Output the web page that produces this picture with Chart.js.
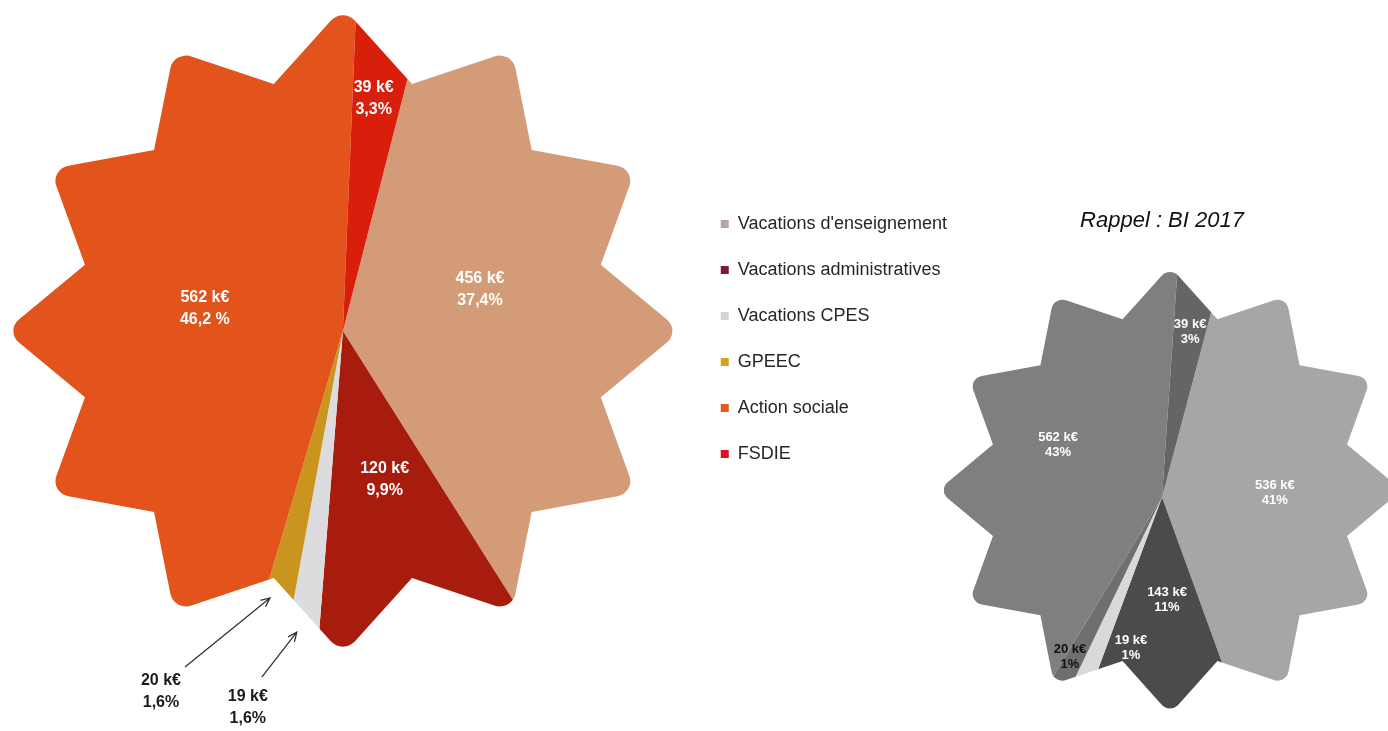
<!DOCTYPE html>
<html>
<head>
<meta charset="utf-8">
<title>Vacations et action sociale</title>
<script src="https://cdn.jsdelivr.net/npm/chart.js@4"></script>
<style>
  html, body { margin: 0; padding: 0; background: #fff; width: 1388px; height: 731px; overflow: hidden; }
  canvas { position: absolute; }
  #budgetChart { left: -7px; top: 0; }
  #rappelChart { left: 936px; top: 190px; }
</style>
</head>
<body>
<canvas id="budgetChart"></canvas>
<canvas id="rappelChart"></canvas>
<script>
// categories (same order in both pies)
const categories = ["Vacations d'enseignement", 'Vacations administratives', 'Vacations CPES', 'GPEEC', 'Action sociale', 'FSDIE'];

// current budget, k€ and shares as printed
const budgetValues = [456, 120, 19, 20, 562, 39];
const budgetShares = ['37,4%', '9,9%', '1,6%', '1,6%', '46,2 %', '3,3%'];

// reminder: BI 2017
const rappelValues = [536, 143, 19, 20, 562, 39];
const rappelShares = ['41%', '11%', '1%', '1%', '43%', '3%'];

const sliceColors = ['#D49B78', '#A71C0C', '#DCDCDE', '#C9951F', '#E3531C', '#DA1E0C'];
const legendColors = ['#B9A2A9', '#7A1A3A', '#D2D2D6', '#D4A020', '#E35A20', '#D8141E'];
const greyColors = ['#A6A6A6', '#4B4B4B', '#D9D9D9', '#6F6F6F', '#7F7F7F', '#656565'];

const FONT = '"Liberation Sans", Arial, sans-serif';
Chart.defaults.font.family = FONT;

// 12 pointed star, rounded tips, centred on (ox, oy)
function starPath(ctx, R, r, round, ox, oy) {
  const pts = [];
  for (let i = 0; i < 24; i++) {
    const a = (i * 15 - 90) * Math.PI / 180;
    const d = i % 2 === 0 ? R : r;
    pts.push([ox + Math.cos(a) * d, oy + Math.sin(a) * d]);
  }
  ctx.beginPath();
  ctx.moveTo(pts[23][0], pts[23][1]);
  for (let i = 0; i < 24; i++) {
    if (i % 2 === 0) {
      ctx.arcTo(pts[i][0], pts[i][1], pts[i + 1][0], pts[i + 1][1], round);
    } else {
      ctx.lineTo(pts[i][0], pts[i][1]);
    }
  }
  ctx.closePath();
}

function drawArrow(ctx, x1, y1, x2, y2) {
  const a = Math.atan2(y2 - y1, x2 - x1);
  ctx.beginPath();
  ctx.moveTo(x1, y1);
  ctx.lineTo(x2, y2);
  ctx.moveTo(x2 - 10 * Math.cos(a - 0.42), y2 - 10 * Math.sin(a - 0.42));
  ctx.lineTo(x2, y2);
  ctx.lineTo(x2 - 10 * Math.cos(a + 0.42), y2 - 10 * Math.sin(a + 0.42));
  ctx.stroke();
}

// clips the pie to a star and writes the value / share labels
function makeStarPie(cfg) {
  return {
    id: 'starPie',
    beforeDatasetsDraw(chart) {
      const ctx = chart.ctx;
      const arc = chart.getDatasetMeta(0).data[0];
      ctx.save();
      ctx.translate(arc.x, arc.y);
      ctx.scale(1, cfg.squash);
      starPath(ctx, cfg.radius, cfg.radius * cfg.inner, cfg.round, cfg.dx, cfg.dy / cfg.squash);
      ctx.clip();
      ctx.translate(-arc.x, -arc.y);
    },
    afterDatasetsDraw(chart) {
      const ctx = chart.ctx;
      ctx.restore();
      const data = chart.data.datasets[0].data;
      chart.getDatasetMeta(0).data.forEach((arc, i) => {
        const p = arc.getProps(['x', 'y', 'startAngle', 'endAngle'], true);
        const lab = cfg.labels[i];
        const mid = (p.startAngle + p.endAngle) / 2 + lab.nudge * Math.PI / 180;
        let x = p.x + Math.cos(mid) * cfg.radius * lab.frac;
        let y = p.y + Math.sin(mid) * cfg.radius * lab.frac * cfg.squash;
        ctx.save();
        if (lab.arrow) {
          const tx = x + lab.arrow[0], ty = y + lab.arrow[1];
          ctx.strokeStyle = '#333';
          ctx.lineWidth = 1.3;
          drawArrow(ctx, tx, ty, x, y);
          x = tx + lab.text[0];
          y = ty + lab.text[1];
        }
        ctx.font = 'bold ' + cfg.fontSize + 'px ' + FONT;
        ctx.fillStyle = lab.color || cfg.color;
        ctx.textAlign = 'center';
        ctx.textBaseline = 'middle';
        ctx.fillText(data[i] + ' k€', x, y - cfg.gap / 2);
        ctx.fillText(cfg.shares[i], x, y + cfg.gap / 2);
        ctx.restore();
      });
    }
  };
}

// legend width (box + gap + text + padding, plus Chart.js' own 10px)
// is needed to put the pie centre where we want it
const measure = document.createElement('canvas').getContext('2d');
measure.font = '18px ' + FONT;
const legendTextWidth = Math.max(...categories.map(c => measure.measureText(c).width));
const budgetCanvas = document.getElementById('budgetChart');
budgetCanvas.width = Math.round(700 + 28 + 8 + 9 + legendTextWidth + 10 + 10);
budgetCanvas.height = 731;

new Chart(budgetCanvas, {
  type: 'pie',
  data: {
    labels: categories,
    datasets: [{
      data: budgetValues,
      backgroundColor: sliceColors,
      borderWidth: 0,
      radius: 350,
      rotation: 13.8
    }]
  },
  options: {
    responsive: false,
    animation: false,
    events: [],
    layout: { padding: { top: 171, bottom: 240, left: 0, right: 10 } },
    plugins: {
      tooltip: { enabled: false },
      legend: {
        position: 'right',
        align: 'end',
        labels: {
          boxWidth: 8,
          boxHeight: 8,
          padding: 28,
          color: '#262626',
          font: { size: 18 },
          generateLabels(chart) {
            const items = Chart.overrides.doughnut.plugins.legend.labels.generateLabels(chart);
            items.forEach((it, i) => {
              it.fillStyle = legendColors[i];
              it.strokeStyle = legendColors[i];
              it.lineWidth = 0;
            });
            return items;
          }
        }
      }
    }
  },
  plugins: [makeStarPie({
    radius: 338, inner: 0.79, round: 16, squash: 0.958, dx: 0, dy: 0,
    fontSize: 16, gap: 22, color: '#FFFFFF', shares: budgetShares,
    labels: [
      { nudge: -8.6, frac: 0.425 },
      { nudge: -1.6, frac: 0.476 },
      { nudge: 1.2, frac: 0.94, arrow: [-35, 45], text: [-14, 30], color: '#1A1A1A' },
      { nudge: 1.75, frac: 0.852, arrow: [-85, 69], text: [-24, 25], color: '#1A1A1A' },
      { nudge: 0.4, frac: 0.414 },
      { nudge: -0.8, frac: 0.725 }
    ]
  })]
});

const rappelCanvas = document.getElementById('rappelChart');
rappelCanvas.width = 452;
rappelCanvas.height = 570;

new Chart(rappelCanvas, {
  type: 'pie',
  data: {
    labels: categories,
    datasets: [{
      data: rappelValues,
      backgroundColor: greyColors,
      borderWidth: 0,
      radius: 245,
      rotation: 14.4
    }]
  },
  options: {
    responsive: false,
    animation: false,
    events: [],
    plugins: {
      tooltip: { enabled: false },
      legend: { display: false },
      title: {
        display: true,
        text: 'Rappel : BI 2017',
        color: '#111',
        font: { size: 22, style: 'italic', weight: 'normal' },
        padding: { top: 18, bottom: 0 }
      }
    }
  },
  plugins: [makeStarPie({
    radius: 232, inner: 0.79, round: 11, squash: 0.965, dx: 8, dy: -7,
    fontSize: 13, gap: 15, color: '#FFFFFF', shares: rappelShares,
    labels: [
      { nudge: 0, frac: 0.487 },
      { nudge: -2.9, frac: 0.46 },
      { nudge: -11.1, frac: 0.687 },
      { nudge: 1.4, frac: 0.817, color: '#111' },
      { nudge: 10.4, frac: 0.505 },
      { nudge: 0.25, frac: 0.747 }
    ]
  })]
});
</script>
</body>
</html>
